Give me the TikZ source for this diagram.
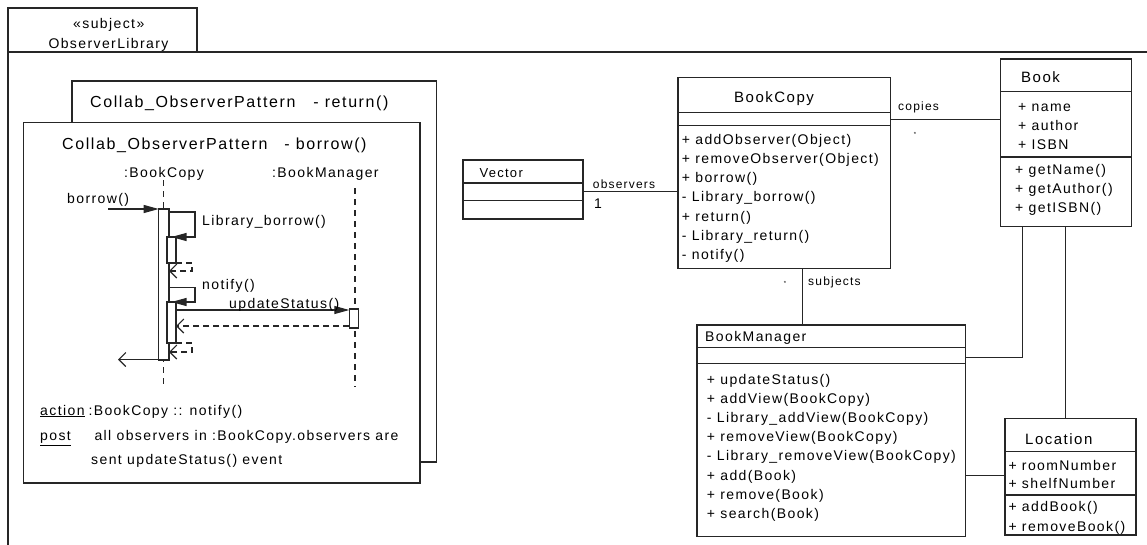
\documentclass[tikz,border=0pt]{standalone}
\usepackage{fontspec}
\setmainfont{Liberation Sans}[LetterSpace=10]
\usetikzlibrary{arrows.meta}
\begin{document}
\begin{tikzpicture}[x=1pt,y=-1pt,
  ln/.style={line width=1.1pt, draw=black!85},
  box/.style={draw=black!85, fill=white, line width=1.1pt, inner sep=0pt, outer sep=0pt, anchor=north west},
  t12/.style={inner sep=0pt, anchor=base west, font=\fontsize{12}{14}\selectfont},
  t13/.style={inner sep=0pt, anchor=base west, font=\fontsize{13}{15}\selectfont},
  t14/.style={inner sep=0pt, anchor=base west, font=\fontsize{14}{16}\selectfont},
  t15/.style={inner sep=0pt, anchor=base west, font=\fontsize{15}{17}\selectfont},
  t16/.style={inner sep=0pt, anchor=base west, font=\fontsize{16}{18}\selectfont},
  tiny/.style={inner sep=0pt, font=\fontsize{6}{6}\selectfont},
  msg/.style={ln, -{Triangle[length=15pt,width=8pt]}},
  retmsg/.style={ln, dash pattern=on 6pt off 4pt, -{Straight Barb[length=7pt,width=14pt]}},
  backmsg/.style={ln, -{Straight Barb[length=7pt,width=14pt]}},
  lifeline/.style={ln, dash pattern=on 6pt off 5pt}
]
\useasboundingbox (0,0) rectangle (1147,544);

% package
\node[box, minimum width=1160pt, minimum height=520pt] (pkgframe) at (8,52) {};
\node[box, minimum width=189pt, minimum height=44pt] (pkgtab) at (8,8) {};
\node[t14] (stereo) at (73,28.5) {«subject»};
\node[t14] (pkgname) at (48.3,48.7) {ObserverLibrary};

% collaboration frames
\node[box, minimum width=364.5pt, minimum height=381pt] (retframe) at (72,81) {};
\node[t16] (rettitle) at (90,107.3) {Collab\_ObserverPattern\hspace{18pt}- return()};
\node[box, minimum width=396.5pt, minimum height=360.3pt] (borframe) at (23.5,122.7) {};
\node[t16] (bortitle) at (62,149) {Collab\_ObserverPattern\hspace{17pt}- borrow()};

% lifelines
\node[t14] (bcname) at (124,177.3) {:BookCopy};
\node[t14] (bmname) at (272,177.3) {:BookManager};
\coordinate (bcend) at (163.5,388);
\coordinate (bmend) at (355,387);
\draw[lifeline] (163.5,180) -- (bcend);
\draw[lifeline] (355,188) -- (bmend);

% activations
\node[box, minimum width=10.3pt, minimum height=151pt] (act1) at (158.7,209) {};
\node[box, minimum width=9pt, minimum height=26pt] (nb1) at (167,237) {};
\node[box, minimum width=9pt, minimum height=41pt] (nb2) at (167,302) {};
\node[box, minimum width=9pt, minimum height=19pt] (bmact) at (349.3,309) {};

% messages
\coordinate (borrowstart) at (108,209);
\draw[msg] (borrowstart) -- (act1.north west);
\node[t14] (lborrow) at (67,203.5) {borrow()};

\draw[msg] (act1.east |- 0,212) -- (195,212) |- (nb1.north);
\node[t14] (llibborrow) at (202,225.7) {Library\_borrow()};
\draw[retmsg] (nb1.south east) -- (192,263) |- (act1.east |- 0,271);

\draw[msg] (act1.east |- 0,287.3) -- (195,287.3) |- (nb2.north);
\node[t14] (lnotify) at (202,289) {notify()};

\draw[msg] (nb2.east |- 0,310) -- (bmact.west |- 0,310);
\node[t14] (lupdate) at (229,308.3) {updateStatus()};
\draw[retmsg] (bmact.west |- 0,326) -- (nb2.east |- 0,326);

\draw[retmsg] (nb2.south east) -- (192,343) |- (act1.east |- 0,352);

\coordinate (finalend) at (118,359.5);
\draw[backmsg] (act1.west |- 0,359.5) -- (finalend);

% notes
\node[t14] (naction) at (40,415) {\underline{action}};
\node[t14] (nactiontext) at (88.3,415) {:BookCopy :: notify()};
\node[t14] (npost) at (40,440.7) {\underline{post}};
\node[t14] (nposttext) at (94.3,440.7) {all observers in :BookCopy.observers are};
\node[t14] (nposttext2) at (91,464) {sent updateStatus() event};

% Vector
\node[box, minimum width=120pt, minimum height=59pt] (vector) at (463,160) {};
\draw[ln] (vector.west |- 0,183) -- (vector.east |- 0,183);
\draw[ln] (vector.west |- 0,200.7) -- (vector.east |- 0,200.7);
\node[t13] (vectortitle) at (479.3,177.3) {Vector};

% BookCopy
\node[box, minimum width=212.5pt, minimum height=191pt] (bookcopy) at (678,77.5) {};
\draw[ln] (bookcopy.west |- 0,112.7) -- (bookcopy.east |- 0,112.7);
\draw[ln] (bookcopy.west |- 0,125.7) -- (bookcopy.east |- 0,125.7);
\node[t15] (bctitle) at (734,102.3) {BookCopy};
\node[t14] (bcm1) at (681.7,144) {+ addObserver(Object)};
\node[t14] (bcm2) at (681.7,163.3) {+ removeObserver(Object)};
\node[t14] (bcm3) at (681.7,182.6) {+ borrow()};
\node[t14] (bcm4) at (681.7,201.9) {- Library\_borrow()};
\node[t14] (bcm5) at (681.7,221.2) {+ return()};
\node[t14] (bcm6) at (681.7,240.5) {- Library\_return()};
\node[t14] (bcm7) at (681.7,259.8) {- notify()};

% Book
\node[box, minimum width=131pt, minimum height=167.7pt] (book) at (1000.7,59) {};
\draw[ln] (book.west |- 0,91.7) -- (book.east |- 0,91.7);
\draw[ln] (book.west |- 0,157) -- (book.east |- 0,157);
\node[t15] (booktitle) at (1021,82.7) {Book};
\node[t14] (ba1) at (1018,111.2) {+ name};
\node[t14] (ba2) at (1018,130) {+ author};
\node[t14] (ba3) at (1018,149.3) {+ ISBN};
\node[t14] (bm1) at (1015,174.5) {+ getName()};
\node[t14] (bm2) at (1015,193.3) {+ getAuthor()};
\node[t14] (bm3) at (1015,212) {+ getISBN()};

% BookManager
\node[box, minimum width=268.7pt, minimum height=211.7pt] (bm) at (697,325) {};
\draw[ln] (bm.west |- 0,347.3) -- (bm.east |- 0,347.3);
\draw[ln] (bm.west |- 0,363.7) -- (bm.east |- 0,363.7);
\node[t14] (bmtitle) at (705,341.7) {BookManager};
\node[t14] (bmm1) at (706.7,384.5) {+ updateStatus()};
\node[t14] (bmm2) at (706.7,403.6) {+ addView(BookCopy)};
\node[t14] (bmm3) at (706.7,422.7) {- Library\_addView(BookCopy)};
\node[t14] (bmm4) at (706.7,441.8) {+ removeView(BookCopy)};
\node[t14] (bmm5) at (706.7,460.9) {- Library\_removeView(BookCopy)};
\node[t14] (bmm6) at (706.7,480) {+ add(Book)};
\node[t14] (bmm7) at (706.7,499.1) {+ remove(Book)};
\node[t14] (bmm8) at (706.7,518.2) {+ search(Book)};

% Location
\node[box, minimum width=131pt, minimum height=116.7pt] (location) at (1005,418.3) {};
\draw[ln] (location.west |- 0,451.7) -- (location.east |- 0,451.7);
\draw[ln] (location.west |- 0,495) -- (location.east |- 0,495);
\node[t15] (loctitle) at (1025,444) {Location};
\node[t14] (la1) at (1008.3,470) {+ roomNumber};
\node[t14] (la2) at (1008.3,488.3) {+ shelfNumber};
\node[t14] (lm1) at (1008.3,511.7) {+ addBook()};
\node[t14] (lm2) at (1008.3,531) {+ removeBook()};

% associations
\draw[ln] (vector.east |- 0,191.7) -- (bookcopy.west |- 0,191.7);
\node[t12] (lobservers) at (592.7,188.3) {observers};
\node[t14] (lone) at (594,208.3) {1};

\draw[ln] (bookcopy.east |- 0,119.3) -- (book.west |- 0,119.3);
\node[t12] (lcopies) at (898,110.5) {copies};
\node[tiny] (lstar1) at (915,134.3) {*};

\draw[ln] (802.3,0 |- bookcopy.south) -- (802.3,0 |- bm.north);
\node[t12] (lsubjects) at (808,285) {subjects};
\node[tiny] (lstar2) at (785,283.3) {*};

\draw[ln] (1022.3,0 |- book.south) -- (1022.3,357.3) -- (bm.east |- 0,357.3);
\draw[ln] (1065.7,0 |- book.south) -- (1065.7,0 |- location.north);
\draw[ln] (bm.east |- 0,475.7) -- (location.west |- 0,475.7);
\end{tikzpicture}
\end{document}
